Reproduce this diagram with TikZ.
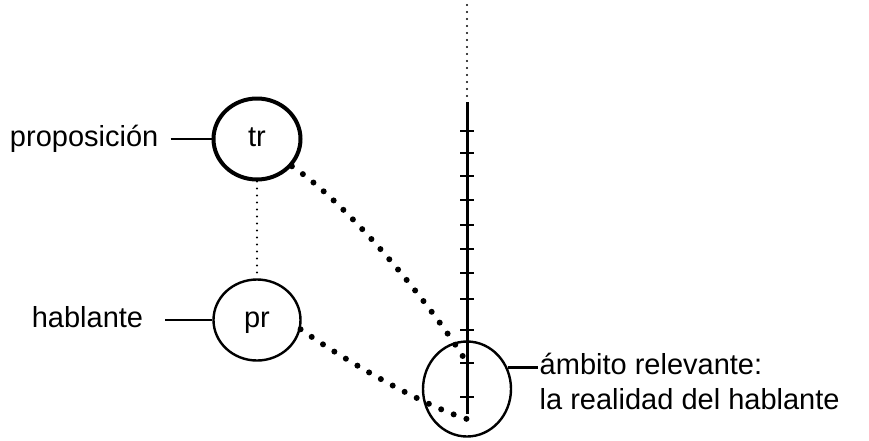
\documentclass[tikz,border=0pt]{standalone}
\usepackage{fontspec}
\setmainfont{Liberation Sans}
\usetikzlibrary{positioning,shapes.geometric}

\begin{document}
\begin{tikzpicture}[x=1pt,y=-1pt,
  role/.style={ellipse,draw,minimum width=87pt,minimum height=81pt,inner sep=0pt,
               text height=15pt,text depth=0pt,font=\fontsize{29}{34}\selectfont},
  lbl/.style={inner ysep=0pt,inner xsep=12pt,text height=15pt,text depth=0pt,
              font=\fontsize{29}{34}\selectfont},
  note/.style={inner ysep=0pt,inner xsep=2pt,text height=15pt,text depth=0pt,
               font=\fontsize{29}{34}\selectfont},
  bigdots/.style={line width=6pt,line cap=round,dash pattern=on 0pt off 13.5pt},
  finedots/.style={line width=2.4pt,line cap=round,dash pattern=on 0pt off 7pt},
  tickmark/.style={line width=2.6pt},
]
  \useasboundingbox (0,0) rectangle (869,440);

  % Trajector and speaker (left column)
  \node[role,line width=4pt] (tr) at (257,139) {tr};
  \node[role,line width=2.4pt] (pr) at (257,320) {pr};

  % Their labels
  \node[lbl,left=41pt of tr] (prop) {proposición};
  \node[lbl,inner xsep=22pt,left=47pt of pr] (habl) {hablante};
  \draw[line width=2.4pt] (prop) -- (tr);
  \draw[line width=2.4pt] (habl) -- (pr);
  \draw[finedots] (tr) -- (pr);

  % Reality axis (right)
  \coordinate (axtop) at (467,5);
  \coordinate (ax0) at (467,102);
  \coordinate (ax1) at (467,414);
  \draw[finedots] (axtop) -- (ax0);
  \draw[line width=3pt] (ax0) -- (ax1);
  \foreach \y in {131,153,176,200,225,249,273,299,330,363,397}
    \draw[tickmark] (460,\y) -- (474,\y);

  % Relevant domain
  \node[ellipse,draw,line width=2.4pt,minimum width=88pt,minimum height=95pt] (amb) at (467,389) {};
  \node[note,right=30pt of amb.28] (amb1) {ámbito relevante:};
  \node[note,below=19pt of amb1.south west,anchor=north west] (amb2) {la realidad del hablante};
  \draw[line width=2.4pt] (amb.28) -- (amb.28 -| amb1.west);

  % Projections onto the axis
  \coordinate (trend) at (467,363);
  \coordinate (prend) at (467,419);
  \draw[bigdots] (tr.-38) .. controls +(60,40) and +(-30,-50) .. (trend);
  \draw[bigdots] (pr.-12) .. controls +(50,35) and +(-40,-12) .. (prend);
\end{tikzpicture}
\end{document}
